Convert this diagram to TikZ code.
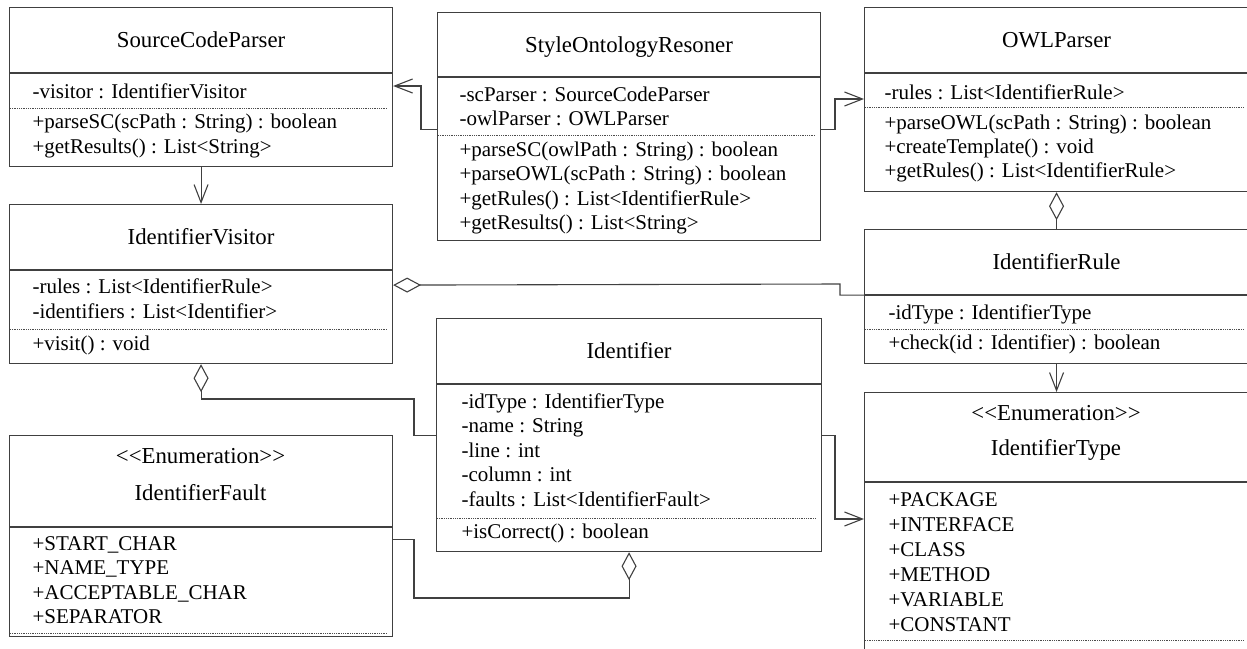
\documentclass[tikz,border=0pt]{standalone}
\usepackage{fontspec}
\setmainfont{Liberation Serif}
\usetikzlibrary{arrows.meta,positioning}

\begin{document}
\begin{tikzpicture}[
    x=1pt, y=-1pt,
    line width=1.1pt,
    classhead/.style={draw=black!75, anchor=north west, inner sep=0pt, font=\fontsize{22.8}{27}\selectfont, text height=15pt, text depth=0pt},
    classbody/.style={draw=black!75, inner sep=0pt},
    stereo/.style={anchor=base, inner sep=0pt, font=\fontsize{22.8}{27}\selectfont},
    member/.style={anchor=base west, inner sep=0pt, font=\fontsize{21}{25}\selectfont},
    sep/.style={draw=black!70, line width=0.9pt, dash pattern=on 1pt off 0.8pt, shorten <=1pt, shorten >=6pt},
    assoc/.style={draw=black!75, -{Straight Barb[length=18pt, width=14pt]}},
    agg/.style={draw=black!75, {Diamond[open, length=28pt, width=15pt]}-}
]
\useasboundingbox (0,0) rectangle (1247,648);

% SourceCodeParser
\node[classhead, minimum width=383pt, minimum height=65pt] (sc) at (9,7) {SourceCodeParser};
\node[classbody, minimum width=383pt, minimum height=93pt, below=0pt of sc] (scb) {};
\node[member] (sc-a1) at (32,98) {-visitor : IdentifierVisitor};
\draw[sep] ([yshift=-35pt]scb.north west) -- ([yshift=-35pt]scb.north east);
\foreach \y/\t [count=\i] in {128/{+parseSC(scPath : String) : boolean}, 153/{+getResults() : List<String>}}
  \node[member] (sc-o\i) at (32,\y) {\t};

% StyleOntologyResoner
\node[classhead, minimum width=383pt, minimum height=64pt] (sor) at (437,12) {StyleOntologyResoner};
\node[classbody, minimum width=383pt, minimum height=163pt, below=0pt of sor] (sorb) {};
\foreach \y/\t [count=\i] in {101/{-scParser : SourceCodeParser}, 125.5/{-owlParser : OWLParser}}
  \node[member] (sor-a\i) at (459,\y) {\t};
\draw[sep] ([yshift=-58pt]sorb.north west) -- ([yshift=-58pt]sorb.north east);
\foreach \y/\t [count=\i] in {156/{+parseSC(owlPath : String) : boolean}, 180.5/{+parseOWL(scPath : String) : boolean}, 205/{+getRules() : List<IdentifierRule>}, 229.5/{+getResults() : List<String>}}
  \node[member] (sor-o\i) at (459,\y) {\t};

% OWLParser
\node[classhead, minimum width=384pt, minimum height=65pt] (owl) at (864,7) {OWLParser};
\node[classbody, minimum width=384pt, minimum height=118pt, below=0pt of owl] (owlb) {};
\node[member] (owl-a1) at (884,99) {-rules : List<IdentifierRule>};
\draw[sep] ([yshift=-34.5pt]owlb.north west) -- ([yshift=-34.5pt]owlb.north east);
\foreach \y/\t [count=\i] in {129/{+parseOWL(scPath : String) : boolean}, 153/{+createTemplate() : void}, 177/{+getRules() : List<IdentifierRule>}}
  \node[member] (owl-o\i) at (884,\y) {\t};

% IdentifierVisitor
\node[classhead, minimum width=383pt, minimum height=65pt] (iv) at (9,204) {IdentifierVisitor};
\node[classbody, minimum width=383pt, minimum height=93pt, below=0pt of iv] (ivb) {};
\foreach \y/\t [count=\i] in {293/{-rules : List<IdentifierRule>}, 318/{-identifiers : List<Identifier>}}
  \node[member] (iv-a\i) at (32,\y) {\t};
\draw[sep] ([yshift=-59pt]ivb.north west) -- ([yshift=-59pt]ivb.north east);
\node[member] (iv-o1) at (32,350) {+visit() : void};

% IdentifierRule
\node[classhead, minimum width=384pt, minimum height=65pt] (ir) at (864,229) {IdentifierRule};
\node[classbody, minimum width=384pt, minimum height=68pt, below=0pt of ir] (irb) {};
\node[member] (ir-a1) at (888,319) {-idType : IdentifierType};
\draw[sep] ([yshift=-34pt]irb.north west) -- ([yshift=-34pt]irb.north east);
\node[member] (ir-o1) at (888,349) {+check(id : Identifier) : boolean};

% IdentifierType
\node[classhead, minimum width=384pt, minimum height=89pt] (it) at (864,392) {};
\node[stereo] (it-st) at (1056,420) {<\kern0pt<Enumeration>\kern0pt>};
\node[stereo] (it-nm) at (1056,455) {IdentifierType};
\node[classbody, minimum width=384pt, minimum height=179pt, below=0pt of it] (itb) {};
\foreach \y/\t [count=\i] in {506/+PACKAGE, 531/+INTERFACE, 556/+CLASS, 581/+METHOD, 606/+VARIABLE, 631/+CONSTANT}
  \node[member] (it-a\i) at (888,\y) {\t};
\draw[sep] ([yshift=-158pt]itb.north west) -- ([yshift=-158pt]itb.north east);

% Identifier
\node[classhead, minimum width=385pt, minimum height=65pt] (id) at (436,318) {Identifier};
\node[classbody, minimum width=385pt, minimum height=167pt, below=0pt of id] (idb) {};
\foreach \y/\t [count=\i] in {408/{-idType : IdentifierType}, 432.5/{-name : String}, 457/{-line : int}, 481.5/{-column : int}, 506/{-faults : List<IdentifierFault>}}
  \node[member] (id-a\i) at (461,\y) {\t};
\draw[sep] ([yshift=-134pt]idb.north west) -- ([yshift=-134pt]idb.north east);
\node[member] (id-o1) at (461,538) {+isCorrect() : boolean};

% IdentifierFault
\node[classhead, minimum width=383pt, minimum height=91pt] (if) at (9,435) {};
\node[stereo] (if-st) at (200.5,463) {<\kern0pt<Enumeration>\kern0pt>};
\node[stereo] (if-nm) at (200.5,500) {IdentifierFault};
\node[classbody, minimum width=383pt, minimum height=109pt, below=0pt of if] (ifb) {};
\foreach \y/\t [count=\i] in {550/{+START\_CHAR}, 574.5/{+NAME\_TYPE}, 599/{+ACCEPTABLE\_CHAR}, 623.5/{+SEPARATOR}}
  \node[member] (if-a\i) at (32,\y) {\t};
\draw[sep] ([yshift=-106pt]ifb.north west) -- ([yshift=-106pt]ifb.north east);

% bends
\coordinate (sorsc) at (421,86);
\coordinate (sorowl) at (835,99);
\coordinate (ivir) at (840,284);
\coordinate (ivid) at (414,399);
\coordinate (idif) at (414,598);
\coordinate (idit) at (835,519);

\draw[assoc] ([yshift=-52pt]sorb.north west) -| (sorsc) -- (sorsc -| scb.east);
\draw[assoc] ([yshift=-52pt]sorb.north east) -| (sorowl) -- (sorowl -| owlb.west);
\draw[assoc] (scb.south) -- (iv.north);
\draw[assoc] (irb.south) -- (it.north);
\draw[assoc] ([yshift=-51pt]idb.north east) -| (idit) -- (idit -| itb.west);
\draw[agg] (owlb.south) -- (ir.north);
\draw[agg] ([yshift=-15pt]ivb.north east) -- (ivir) |- (ir.south west);
\draw[agg] (ivb.south) |- (ivid) |- ([yshift=-51pt]idb.north west);
\draw[agg] (idb.south) |- (idif) |- ([yshift=-12pt]ifb.north east);
\end{tikzpicture}
\end{document}
